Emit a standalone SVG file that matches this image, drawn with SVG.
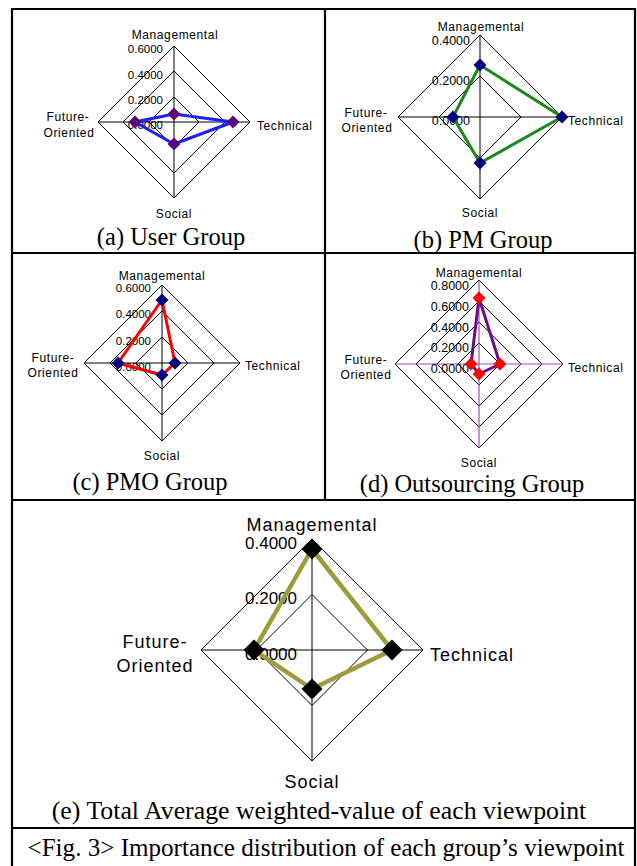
<svg xmlns="http://www.w3.org/2000/svg" xmlns:xlink="http://www.w3.org/1999/xlink" width="637" height="866" viewBox="0 0 637 866">
  <style>
    .frame { stroke: #000; stroke-width: 2.2; fill: none; }
    .grid { stroke: #000; stroke-width: 1; fill: none; }
    .axis { stroke: #000; stroke-width: 1; }
    .axisP { stroke: #a050b0; stroke-width: 1.2; }
    .lbl { font-family: "Liberation Sans", Arial, sans-serif; font-size: 12px; letter-spacing: 0.6px; fill: #000; }
    .num { font-family: "Liberation Sans", Arial, sans-serif; font-size: 11.5px; fill: #000; text-anchor: end; }
    .num12 { font-family: "Liberation Sans", Arial, sans-serif; font-size: 12.5px; fill: #000; text-anchor: end; }
    .mid { text-anchor: middle; }
    .cap { font-family: "Liberation Serif", "Times New Roman", serif; font-size: 24.5px; fill: #000; text-anchor: middle; }
    .capL { font-family: "Liberation Serif", "Times New Roman", serif; font-size: 25.8px; fill: #000; text-anchor: middle; }
    .capF { font-family: "Liberation Serif", "Times New Roman", serif; font-size: 25.1px; fill: #000; text-anchor: middle; }
    .lblE { font-family: "Liberation Sans", Arial, sans-serif; font-size: 18px; letter-spacing: 1px; fill: #000; }
    .numE { font-family: "Liberation Sans", Arial, sans-serif; font-size: 17px; fill: #000; text-anchor: end; }
    .series { fill: none; stroke-linejoin: miter; }
  </style>
  <defs>
    <path id="mk" d="M0,-6.5 L6.5,0 L0,6.5 L-6.5,0 Z"/>
    <path id="mkL" d="M0,-10.5 L10.5,0 L0,10.5 L-10.5,0 Z"/>
  </defs>

  <!-- table frame -->
  <g id="frame">
    <line class="frame" x1="12" y1="9" x2="635" y2="9"/>
    <line class="frame" x1="12" y1="8" x2="12" y2="866"/>
    <line class="frame" x1="635" y1="8" x2="635" y2="866"/>
    <line class="frame" x1="325" y1="9" x2="325" y2="500"/>
    <line class="frame" x1="12" y1="253" x2="635" y2="253"/>
    <line class="frame" x1="12" y1="500" x2="635" y2="500"/>
    <line class="frame" x1="12" y1="828" x2="635" y2="828"/>
  </g>

  <!-- (a) User Group: centre 174,122, radius 76, scale 0..0.6 -->
  <g id="panel-a">
    <path class="grid" d="M174,46 L250,122 L174,198 L98,122 Z M174,71 L225,122 L174,173 L123,122 Z M174,97 L199,122 L174,147 L149,122 Z"/>
    <line class="axis" x1="174" y1="46" x2="174" y2="198"/>
    <line class="axis" x1="98" y1="122" x2="250" y2="122"/>
    <text class="lbl mid" x="175" y="39">Managemental</text>
    <text class="num" x="163" y="53">0.6000</text>
    <text class="num" x="163" y="79">0.4000</text>
    <text class="num" x="163" y="104">0.2000</text>
    <text class="num" x="163" y="129">0.0000</text>
    <text class="lbl mid" x="68" y="121">Future-</text>
    <text class="lbl mid" x="69" y="137">Oriented</text>
    <text class="lbl" x="257" y="130">Technical</text>
    <text class="lbl mid" x="174" y="218">Social</text>
    <polygon class="series" stroke="#1e1eff" stroke-width="3" points="174,114 233,122 174,144 135,122"/>
    <g fill="#5a0a78">
      <use xlink:href="#mk" x="174" y="114"/>
      <use xlink:href="#mk" x="233" y="122"/>
      <use xlink:href="#mk" x="174" y="144"/>
      <use xlink:href="#mk" x="135" y="122"/>
    </g>
    <text class="cap" x="171" y="245">(a) User Group</text>
  </g>

  <!-- (b) PM Group: centre 480,117, radius 82, scale 0..0.4 -->
  <g id="panel-b">
    <path class="grid" d="M480,35 L562,117 L480,199 L398,117 Z M480,76 L521,117 L480,158 L439,117 Z"/>
    <line class="axis" x1="480" y1="35" x2="480" y2="199"/>
    <line class="axis" x1="398" y1="117" x2="562" y2="117"/>
    <text class="lbl mid" x="481" y="31">Managemental</text>
    <text class="num12" x="470" y="45">0.4000</text>
    <text class="num12" x="470" y="85">0.2000</text>
    <text class="num12" x="470" y="125">0.0000</text>
    <text class="lbl mid" x="366" y="117">Future-</text>
    <text class="lbl mid" x="367" y="132">Oriented</text>
    <text class="lbl" x="568" y="125">Technical</text>
    <text class="lbl mid" x="480" y="217">Social</text>
    <polygon class="series" stroke="#1a8a1a" stroke-width="3" points="480,65 562,117 480,163 453,117"/>
    <g fill="#000080">
      <use xlink:href="#mk" x="480" y="65"/>
      <use xlink:href="#mk" x="562" y="117"/>
      <use xlink:href="#mk" x="480" y="163"/>
      <use xlink:href="#mk" x="453" y="117"/>
    </g>
    <text class="cap" x="483" y="248">(b) PM Group</text>
  </g>

  <!-- (c) PMO Group: centre 162,363, radius 78, scale 0..0.6 -->
  <g id="panel-c">
    <path class="grid" d="M162,285 L240,363 L162,441 L84,363 Z M162,311 L214,363 L162,415 L110,363 Z M162,337 L188,363 L162,389 L136,363 Z"/>
    <line class="axis" x1="162" y1="285" x2="162" y2="441"/>
    <line class="axis" x1="84" y1="363" x2="240" y2="363"/>
    <text class="lbl mid" x="162" y="280">Managemental</text>
    <text class="num" x="151" y="292">0.6000</text>
    <text class="num" x="151" y="318">0.4000</text>
    <text class="num" x="151" y="345">0.2000</text>
    <text class="num" x="151" y="371">0.0000</text>
    <text class="lbl mid" x="53" y="362">Future-</text>
    <text class="lbl mid" x="53" y="377">Oriented</text>
    <text class="lbl" x="245" y="370">Technical</text>
    <text class="lbl mid" x="162" y="460">Social</text>
    <polygon class="series" stroke="#ff0000" stroke-width="3" points="162,300 175,363 162,375 118,363"/>
    <g fill="#000080">
      <use xlink:href="#mk" x="162" y="300"/>
      <use xlink:href="#mk" x="175" y="363"/>
      <use xlink:href="#mk" x="162" y="375"/>
      <use xlink:href="#mk" x="118" y="363"/>
    </g>
    <text class="cap" x="150" y="490">(c) PMO Group</text>
  </g>

  <!-- (d) Outsourcing Group: centre 479,364, radius 84, scale 0..0.8 -->
  <g id="panel-d">
    <path class="grid" d="M479,280 L563,364 L479,448 L395,364 Z M479,301 L542,364 L479,427 L416,364 Z M479,322 L521,364 L479,406 L437,364 Z M479,343 L500,364 L479,385 L458,364 Z"/>
    <line class="axisP" x1="479" y1="280" x2="479" y2="448"/>
    <line class="axisP" x1="395" y1="364" x2="563" y2="364"/>
    <text class="lbl mid" x="479" y="277">Managemental</text>
    <text class="num12" x="469" y="290">0.8000</text>
    <text class="num12" x="469" y="311">0.6000</text>
    <text class="num12" x="469" y="332">0.4000</text>
    <text class="num12" x="469" y="352">0.2000</text>
    <text class="num12" x="469" y="373">0.0000</text>
    <text class="lbl mid" x="366" y="364">Future-</text>
    <text class="lbl mid" x="366" y="379">Oriented</text>
    <text class="lbl" x="568" y="372">Technical</text>
    <text class="lbl mid" x="479" y="467">Social</text>
    <polygon class="series" stroke="#700a8a" stroke-width="3" points="479,298 500,364 479,374 471,364"/>
    <g fill="#ff0000">
      <use xlink:href="#mk" x="479" y="298"/>
      <use xlink:href="#mk" x="500" y="364"/>
      <use xlink:href="#mk" x="479" y="374"/>
      <use xlink:href="#mk" x="471" y="364"/>
    </g>
    <text class="cap" x="472" y="492">(d) Outsourcing Group</text>
  </g>

  <!-- (e) Total average: centre 312,650, radius 111, scale 0..0.4 -->
  <g id="panel-e">
    <path class="grid" d="M312,539 L423,650 L312,761 L201,650 Z M312,594.5 L367.5,650 L312,705.5 L256.5,650 Z"/>
    <line class="axis" x1="312" y1="539" x2="312" y2="761"/>
    <line class="axis" x1="201" y1="650" x2="423" y2="650"/>
    <text class="lblE mid" x="312" y="531">Managemental</text>
    <text class="numE" x="297" y="549">0.4000</text>
    <text class="numE" x="297" y="604">0.2000</text>
    <text class="numE" x="297" y="660">0.0000</text>
    <text class="lblE mid" x="155" y="648">Future-</text>
    <text class="lblE mid" x="155" y="672">Oriented</text>
    <text class="lblE" x="430" y="661">Technical</text>
    <text class="lblE mid" x="312" y="788">Social</text>
    <polygon class="series" stroke="#9c9c3c" stroke-width="4.5" points="312,549 392,650 312,689 254,650"/>
    <g fill="#000">
      <use xlink:href="#mkL" x="312" y="549"/>
      <use xlink:href="#mkL" x="392" y="650"/>
      <use xlink:href="#mkL" x="312" y="689"/>
      <use xlink:href="#mkL" x="254" y="650"/>
    </g>
    <text class="capL" x="319" y="819">(e) Total Average weighted-value of each viewpoint</text>
  </g>

  <!-- figure caption -->
  <g id="caption">
    <text class="capF" x="326" y="856">&lt;Fig. 3&gt; Importance distribution of each group’s viewpoint</text>
  </g>
</svg>
